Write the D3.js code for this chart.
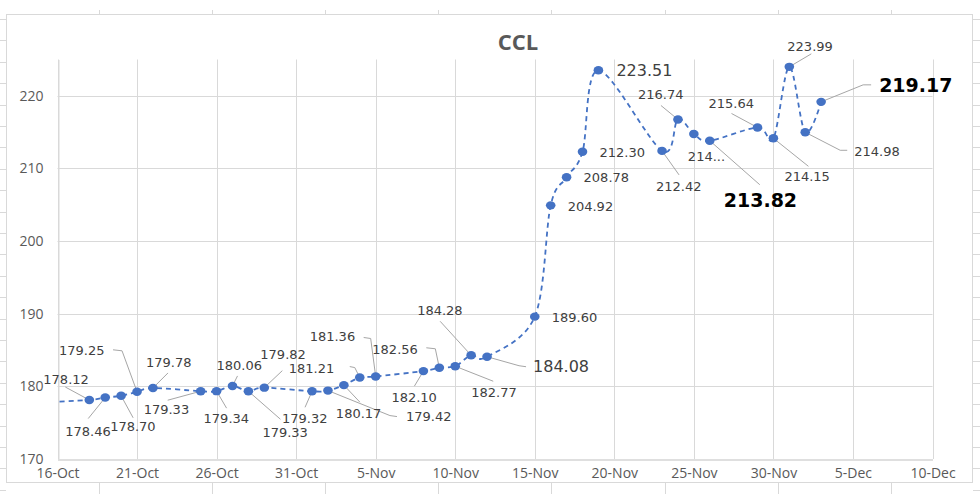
<!DOCTYPE html>
<html><head><meta charset="utf-8">
<script src="https://cdn.jsdelivr.net/npm/d3@7"></script>
<style>html,body{margin:0;padding:0;background:#fff;} svg{display:block}</style>
</head><body><svg id="c" width="980" height="494"></svg>
<script>
// ---------- data ----------
const chartTitle = "CCL";
const dates = ["2021-10-15","2021-10-18","2021-10-19","2021-10-20","2021-10-21","2021-10-22",
  "2021-10-25","2021-10-26","2021-10-27","2021-10-28","2021-10-29",
  "2021-11-01","2021-11-02","2021-11-03","2021-11-04","2021-11-05",
  "2021-11-08","2021-11-09","2021-11-10","2021-11-11","2021-11-12",
  "2021-11-15","2021-11-16","2021-11-17","2021-11-18","2021-11-19",
  "2021-11-23","2021-11-24","2021-11-25","2021-11-26",
  "2021-11-29","2021-11-30","2021-12-01","2021-12-02","2021-12-03"];
const values = [177.80,178.12,178.46,178.70,179.25,179.78,
  179.33,179.34,180.06,179.33,179.82,
  179.32,179.42,180.17,181.21,181.36,
  182.10,182.56,182.77,184.28,184.08,
  189.60,204.92,208.78,212.30,223.51,
  212.42,216.74,214.75,213.82,
  215.64,214.15,223.99,214.98,219.17];
const valueLabels = [null,"178.12","178.46","178.70","179.25","179.78",
  "179.33","179.34","180.06","179.33","179.82",
  "179.32","179.42","180.17","181.21","181.36",
  "182.10","182.56","182.77","184.28","184.08",
  "189.60","204.92","208.78","212.30","223.51",
  "212.42","216.74","214...","213.82",
  "215.64","214.15","223.99","214.98","219.17"];
const xTickDates = ["2021-10-16","2021-10-21","2021-10-26","2021-10-31","2021-11-05","2021-11-10",
  "2021-11-15","2021-11-20","2021-11-25","2021-11-30","2021-12-05","2021-12-10"];
const yTicks = [170,180,190,200,210,220];
const yDomain = [170,225];

// ---------- layout (label offsets relative to each point, px) ----------
// [dx, dyBaseline, leader polyline (relative), size]
const labelLayout = [null,
  [-46,-16,[[-24,-13]],"n"],
  [-40,38,[[-17,21]],"n"],
  [-11,35,[[12,22]],"n"],
  [-78,-37,[[-15,-41],[-24,-42]],"n"],
  [-7,-21,[[15,-15]],"n"],
  [-57,23,[[-33,9]],"n"],
  [-13,32,[[10,17]],"n"],
  [-16,-16,[[5,-10]],"n"],
  [14,46,[[32,28]],"n"],
  [-4,-29,[[18,-17]],"n"],
  [-30,32,[[-7,16]],"n"],
  [78,30,[[62,25],[69,26]],"n"],
  [-8,33,[[16,17]],"n"],
  [-71,-5,[[-5,-10],[-10,-11]],"n"],
  [-66,-35,[[-5,-38],[-12,-39]],"n"],
  [-32,31,[[-9,15]],"n"],
  [-67,-14,[[-4,-19],[-13,-20]],"n"],
  [16,31,[[38,15]],"n"],
  [-54,-40,[[-31,-34]],"n"],
  [46,15,[[32,9],[39,10]],"m"],
  [17,5,[],"n"],
  [17,6,[],"n"],
  [17,5,[],"n"],
  [17,5,[],"n"],
  [18,6,[],"m"],
  [-6,40,[[17,24]],"n"],
  [-40,-20,[[-17,-14]],"n"],
  [-6,27,[],"n"],
  [14,66,[[50,44]],"b"],
  [-49,-19,[[-26,-14]],"n"],
  [11,43,[[35,28]],"n"],
  [-2,-16,[[22,-13]],"n"],
  [49,24,[[35,18],[42,18]],"n"],
  [58,-10,[[42,-17],[50,-17]],"b"]
];

const W = 980, H = 494;
const plot = {l:57.5, r:932.5, t:59.5, b:459};
const svg = d3.select("#c");
const parse = d3.utcParse("%Y-%m-%d");
const data = dates.map((d,i)=>({date:parse(d), value:values[i], label:valueLabels[i], lay:labelLayout[i]}));

// spreadsheet background marks
const bg = svg.append("g").attr("stroke","#d9d9d9").attr("stroke-width",1);
for (let y=19; y<H; y+=21.4) {
  bg.append("line").attr("x1",0).attr("x2",6).attr("y1",Math.round(y)+0.5).attr("y2",Math.round(y)+0.5);
  bg.append("line").attr("x1",973).attr("x2",980).attr("y1",Math.round(y)+0.5).attr("y2",Math.round(y)+0.5);
}
for (let x=98.5; x<W; x+=113.2) {
  bg.append("line").attr("x1",Math.round(x)+0.5).attr("x2",Math.round(x)+0.5).attr("y1",10).attr("y2",14);
  bg.append("line").attr("x1",Math.round(x)+0.5).attr("x2",Math.round(x)+0.5).attr("y1",483).attr("y2",494);
}
// chart frame
svg.append("rect").attr("x",6.5).attr("y",14.5).attr("width",966).attr("height",468)
  .attr("fill","#fff").attr("stroke","#d9d9d9");

const x = d3.scaleUtc().domain([parse(xTickDates[0]), parse(xTickDates[xTickDates.length-1])]).range([plot.l, plot.r]);
const y = d3.scaleLinear().domain(yDomain).range([plot.b, plot.t]);

// gridlines
const grid = svg.append("g");
grid.selectAll("line.h").data(yTicks.slice(1)).join("line")
  .attr("x1",plot.l).attr("x2",plot.r).attr("y1",d=>Math.round(y(d))+0.5).attr("y2",d=>Math.round(y(d))+0.5)
  .attr("stroke","#d9d9d9").attr("stroke-width",1);
grid.selectAll("line.v").data(xTickDates.map(parse)).join("line")
  .attr("x1",d=>Math.round(x(d))+0.5).attr("x2",d=>Math.round(x(d))+0.5).attr("y1",plot.t).attr("y2",plot.b)
  .attr("stroke","#d9d9d9").attr("stroke-width",1);

// axes
const fmt = d3.utcFormat("%-d-%b");
const xAxis = svg.append("g").attr("transform",`translate(0,${Math.round(plot.b)+0.5})`)
  .call(d3.axisBottom(x).tickValues(xTickDates.map(parse)).tickFormat(fmt).tickSize(0).tickPadding(9));
xAxis.select(".domain").attr("stroke","#bfbfbf");
xAxis.selectAll("text").attr("font-family","'Open Sans'").attr("font-size","14px").attr("fill","#595959");
const yAxis = svg.append("g").attr("transform",`translate(${Math.round(plot.l)+0.5},0)`)
  .call(d3.axisLeft(y).tickValues(yTicks).tickSize(0).tickPadding(15));
yAxis.select(".domain").attr("stroke","#d9d9d9");
yAxis.selectAll("text").attr("font-family","'Open Sans'").attr("font-size","14px").attr("fill","#595959");

// title
svg.append("text").attr("x",518).attr("y",50).attr("text-anchor","middle")
  .attr("font-family","'Open Sans'").attr("font-weight","bold").attr("font-size","22px")
  .attr("fill","#595959").text(chartTitle);

// clip
svg.append("clipPath").attr("id","clip").append("rect")
  .attr("x",plot.l).attr("y",plot.t-20).attr("width",plot.r-plot.l).attr("height",plot.b-plot.t+20);

const line = d3.line().x(d=>x(d.date)).y(d=>y(d.value)).curve(d3.curveCatmullRom.alpha(0));
svg.append("path").datum(data).attr("clip-path","url(#clip)")
  .attr("d",line).attr("fill","none").attr("stroke","#4472C4").attr("stroke-width",1.8)
  .attr("stroke-dasharray","5,4");

// leaders
const lab = data.filter(d=>d.label);
svg.append("g").selectAll("polyline").data(lab.filter(d=>d.lay[2].length)).join("polyline")
  .attr("points",d=>{const px=x(d.date), py=y(d.value);
    return [[px,py]].concat(d.lay[2].map(p=>[px+p[0],py+p[1]])).map(p=>p.join(",")).join(" ");})
  .attr("fill","none").attr("stroke","#a6a6a6").attr("stroke-width",1);

// markers
svg.append("g").attr("clip-path","url(#clip)").selectAll("ellipse").data(data).join("ellipse")
  .attr("cx",d=>x(d.date)).attr("cy",d=>y(d.value)).attr("rx",4.8).attr("ry",4.2).attr("fill","#4472C4");

// labels
const sizes = {n:13, m:16, b:19};
svg.append("g").selectAll("text").data(lab).join("text")
  .attr("x",d=>x(d.date)+d.lay[0]).attr("y",d=>y(d.value)+d.lay[1])
  .attr("font-family","'DejaVu Sans'").attr("font-size",d=>sizes[d.lay[3]]+"px")
  .attr("font-weight",d=>d.lay[3]==="b"?"bold":"normal")
  .attr("fill",d=>d.lay[3]==="b"?"#000":"#404040").text(d=>d.label);
</script></body></html>
